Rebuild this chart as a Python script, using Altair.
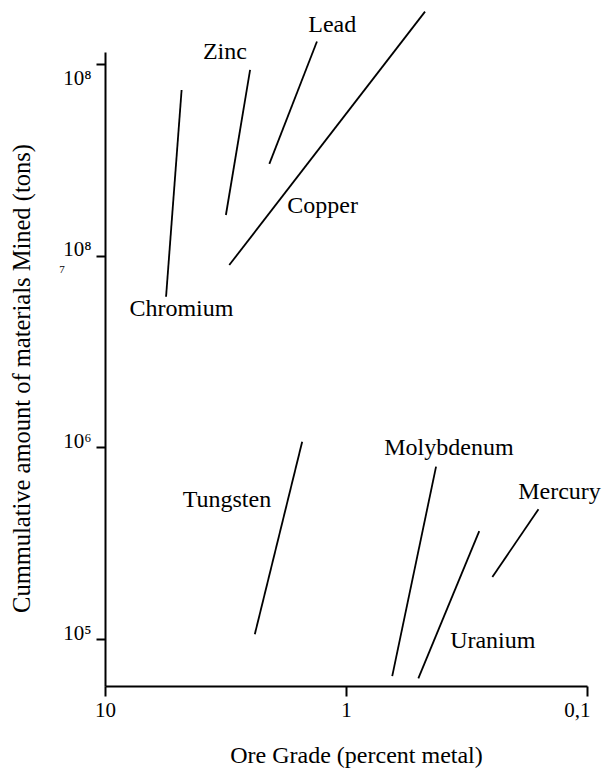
import altair as alt
import pandas as pd

# ---- data ----
metals = ["Chromium", "Zinc", "Lead", "Copper", "Tungsten", "Molybdenum", "Uranium", "Mercury"]
grade_start = [4.81, 2.50, 1.32, 0.470, 1.52, 0.423, 0.280, 0.159]
tons_start = [7.32e7, 9.31e7, 1.31e8, 1.875e8, 1.07e6, 7.93e5, 3.66e5, 4.75e5]
grade_end = [5.58, 3.15, 2.08, 3.05, 2.39, 0.643, 0.501, 0.247]
tons_end = [6.11e6, 1.63e7, 3.01e7, 8.94e6, 1.06e5, 6.41e4, 6.24e4, 2.11e5]
label_grade = [4.82, 3.18, 1.14, 1.25, 3.12, 0.374, 0.246, 0.130]
label_tons = [5.27e6, 1.155e8, 1.60e8, 1.82e7, 5.31e5, 9.92e5, 9.76e4, 5.85e5]

x_tick_values = [10, 1, 0.1]
x_tick_labels = ["10", "1", "0,1"]
y_tick_values = [100000, 1000000, 10000000, 100000000]
y_tick_labels = ["10⁵", "10⁶", "10⁸", "10⁸"]

note_text = ["7"]
note_grade = [15.07]
note_tons = [8.41e6]

x_title = "Ore Grade (percent metal)"
y_title = "Cummulative amount of materials Mined (tons)"

FONT = "Liberation Serif, Times New Roman, Times, serif"

df = pd.DataFrame({
    "metal": metals,
    "g1": grade_start, "t1": tons_start,
    "g2": grade_end, "t2": tons_end,
    "lg": label_grade, "lt": label_tons,
})
note_df = pd.DataFrame({"txt": note_text, "lg": note_grade, "lt": note_tons})


def make_expr(values, labels):
    expr = "''"
    for v, l in reversed(list(zip(values, labels))):
        expr = f"datum.value == {v} ? '{l}' : " + expr
    return expr


xscale = alt.Scale(type="log", domain=[0.1, 10], reverse=True, nice=False)
yscale = alt.Scale(type="log", domain=[56900, 1.155e8], nice=False)

xaxis = alt.Axis(
    values=x_tick_values, labelExpr=make_expr(x_tick_values, x_tick_labels),
    grid=False, domainColor="black", domainWidth=2, tickColor="black", tickWidth=2,
    tickSize=10, labelFont=FONT, labelFontSize=21, labelColor="black",
    labelPadding=3, labelFlush=False,
    labelAlign={"condition": {"test": "datum.value < 0.5", "value": "right"}, "value": "center"},
    labelOffset={"condition": {"test": "datum.value < 0.5", "value": 3}, "value": 0},
    titleFont=FONT, titleFontSize=24, titleFontWeight="normal", titleColor="black",
    titleX=251, titleY=69, titleBaseline="middle", titleAlign="center",
)
yaxis = alt.Axis(
    values=y_tick_values, labelExpr=make_expr(y_tick_values, y_tick_labels),
    grid=False, domainColor="black", domainWidth=2, tickColor="black", tickWidth=2,
    tickSize=9, labelFont=FONT, labelFontSize=21, labelColor="black",
    labelPadding=5, labelBaseline="alphabetic",
    labelOffset={"condition": {"test": "datum.value >= 50000000", "value": 21}, "value": 0},
    titleFont=FONT, titleFontSize=24.5, titleFontWeight="normal", titleColor="black",
    titleX=-83, titleY=326, titleBaseline="middle", titleAlign="center", titleAngle=270,
)

lines = alt.Chart(df).mark_rule(color="black", strokeWidth=1.8).encode(
    x=alt.X("g1:Q", scale=xscale, axis=xaxis, title=x_title),
    y=alt.Y("t1:Q", scale=yscale, axis=yaxis, title=y_title),
    x2="g2:Q",
    y2="t2:Q",
)

labels = alt.Chart(df).mark_text(
    font=FONT, fontSize=24, color="black", align="center", baseline="middle"
).encode(
    x=alt.X("lg:Q", scale=xscale, axis=xaxis, title=x_title),
    y=alt.Y("lt:Q", scale=yscale, axis=yaxis, title=y_title),
    text="metal:N",
)

note = alt.Chart(note_df).mark_text(
    font=FONT, fontSize=11, color="black", align="center", baseline="middle"
).encode(
    x=alt.X("lg:Q", scale=xscale, axis=xaxis, title=x_title),
    y=alt.Y("lt:Q", scale=yscale, axis=yaxis, title=y_title),
    text="txt:N",
)

chart = alt.layer(lines, labels, note).properties(
    width=482,
    height=634,
    autosize=alt.AutoSizeParams(type="none"),
    padding={"left": 97, "top": 44, "right": 16, "bottom": 82},
    background="white",
).configure_view(strokeWidth=0)

chart.save("out.html", embed_options={"renderer": "svg", "actions": False})
